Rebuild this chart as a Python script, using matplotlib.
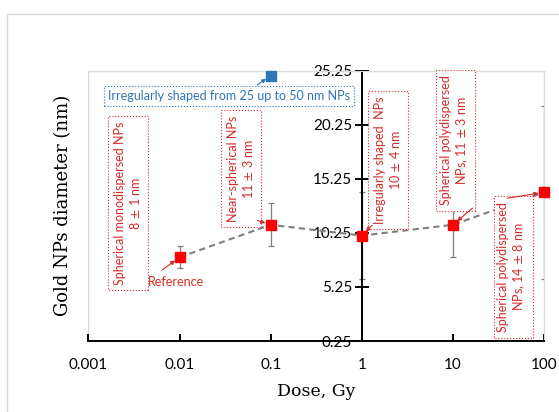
import numpy as np
import matplotlib
matplotlib.use('Agg')
import matplotlib.pyplot as plt
from matplotlib.patches import Rectangle

# measured series
dose = [0.01, 0.1, 1, 10, 100]
diam = [8, 11, 10, 11, 14]
err = [1, 2, 4, 3, 8]
# irregular 25-50 nm point
dose_big = [0.1]
diam_big = [24.8]

yticks = np.arange(0.25, 25.26, 5)
xticks = [0.001, 0.01, 0.1, 1, 10, 100]
xlabels = ['0.001', '0.01', '0.1', '1', '10', '100']

red = '#d42a2a'
blue = '#2e75b6'
grey = '#7f7f7f'

fig = plt.figure(figsize=(5.59, 4.12), dpi=100)
# outer chart border
fig.patches.append(Rectangle((0.0125, -0.1), 1.2, 1.066, transform=fig.transFigure,
                             fill=False, ec='#d9d9d9', lw=1))
ax = fig.add_axes([0.1583, 0.1723, 0.8149, 0.6561])

ax.set_xscale('log')
ax.set_xlim(0.001, 100)
ax.set_ylim(0.25, 25.25)

ax.errorbar(dose, diam, yerr=err, fmt='none', ecolor=grey, elinewidth=0.9, capsize=2.5, capthick=0.9, zorder=2)
ax.plot(dose, diam, ls='--', color=grey, lw=1.5, dashes=(3, 2), zorder=3, clip_on=False)
ax.plot(dose, diam, 's', color='#ff0000', ms=7.5, zorder=4, clip_on=False)
ax.plot(dose_big, diam_big, 's', color=blue, ms=6.5, zorder=4, clip_on=False)

# axes styling
ax.spines['left'].set_position(('data', 1))
ax.spines['left'].set_color('black')
ax.spines['left'].set_linewidth(1.4)
ax.spines['bottom'].set_linewidth(1.4)
for s in ['top', 'right']:
    ax.spines[s].set_color('#d9d9d9')
ax.add_patch(Rectangle((0, 0), 1, 1, transform=ax.transAxes, fill=False, ec='#d9d9d9', lw=1, zorder=0))

ax.set_xticks(xticks)
ax.set_xticklabels(xlabels)
ax.xaxis.set_minor_locator(matplotlib.ticker.NullLocator())
ax.set_yticks(yticks)
ax.set_yticklabels(['%.2f' % v for v in yticks])
ax.tick_params(axis='x', direction='in', length=5, width=1.4, pad=12, labelsize=11)
ax.tick_params(axis='y', direction='inout', length=10, width=1.4, pad=2, labelsize=11)
for lab in ax.get_xticklabels() + ax.get_yticklabels():
    lab.set_family('Lato')

ax.set_xlabel('Dose, Gy', family='DejaVu Serif', fontsize=12.5, labelpad=8)
ax.set_ylabel('Gold NPs diameter (nm)', family='DejaVu Serif', fontsize=13)
ax.yaxis.set_label_coords(-0.036, 0.5)

# annotation boxes
notes = [
    ('Spherical monodispersed NPs\n8 $\\pm$ 1 nm', 0.00272, 13.0),
    ('Near-spherical NPs\n11 $\\pm$ 3 nm', 0.0474, 16.2),
    ('Irregularly shaped  NPs\n10 $\\pm$ 4 nm', 1.93, 17.0),
    ('Spherical polydispersed\nNPs, 11 $\\pm$ 3 nm', 10.5, 18.8),
    ('Spherical polydispersed\nNPs, 14 $\\pm$ 8 nm', 45, 7.1),
]
for txt, x, y in notes:
    ax.text(x, y, txt, rotation=90, ha='center', va='center', multialignment='center',
            color=red, fontsize=9, family='Lato', zorder=5,
            bbox=dict(boxstyle='square,pad=0.45', fc='white', ec=red, ls=':', lw=0.8))

ax.text(0.035, 22.9, 'Irregularly shaped from 25 up to 50 nm NPs', ha='center', va='center',
        color=blue, fontsize=9, family='Lato', zorder=5,
        bbox=dict(boxstyle='square,pad=0.3', fc='white', ec=blue, ls=':', lw=0.8))
ax.text(0.0092, 5.75, 'Reference', ha='center', va='center', color=red, fontsize=9, family='Lato', zorder=5)

arrows = [
    ((0.01, 8), (0.0064, 6.8), red),
    ((0.1, 11), (0.071, 11.4), red),
    ((1, 10), (1.30, 10.96), red),
    ((10, 11), (16.4, 12.54), red),
    ((100, 14), (39.7, 13.46), red),
    ((0.1, 24.8), (0.071, 23.93), blue),
]
for xy, xyt, c in arrows:
    ax.annotate('', xy=xy, xytext=xyt, zorder=6, annotation_clip=False,
                arrowprops=dict(arrowstyle='-|>', color=c, lw=0.8, mutation_scale=6, shrinkA=0, shrinkB=4))

fig.savefig('out.png', dpi=100)
